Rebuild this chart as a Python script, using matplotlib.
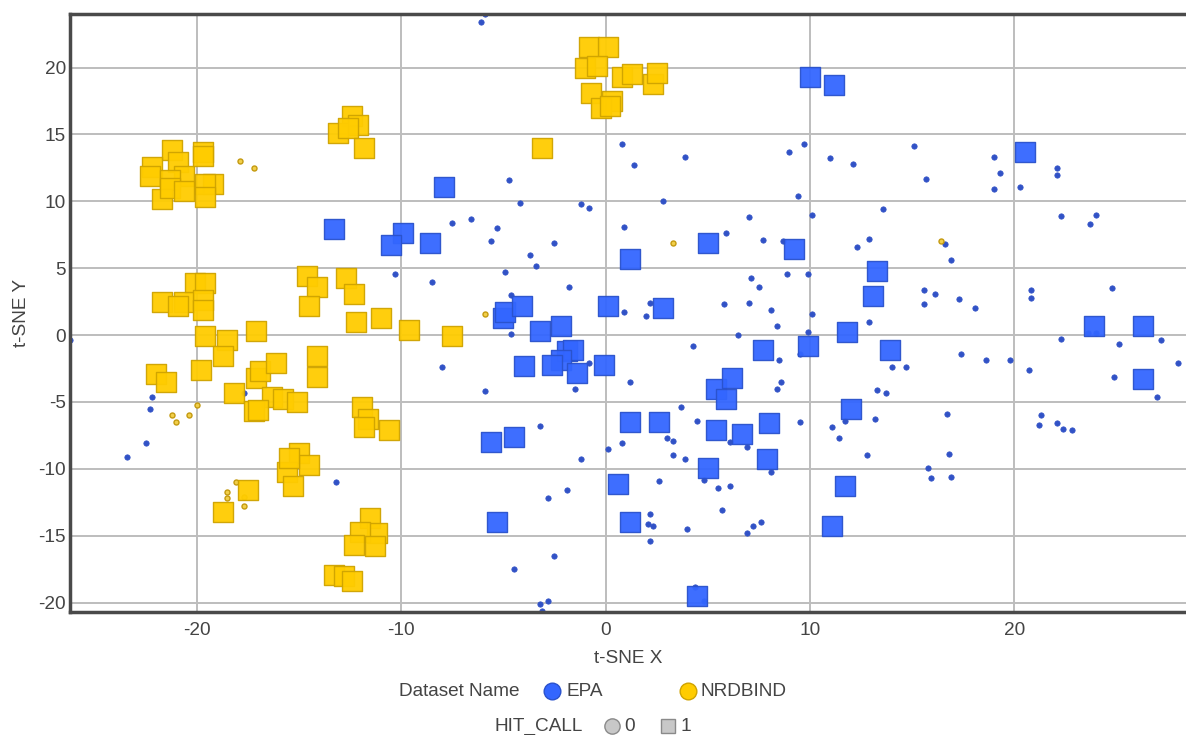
import matplotlib
matplotlib.use("Agg")
import matplotlib.pyplot as plt
from matplotlib.lines import Line2D
import numpy as np

plt.rcParams['font.family'] = ['Liberation Sans', 'DejaVu Sans']
plt.rcParams['axes.unicode_minus'] = False

# t-SNE coordinates: (x, y)
epa_hit = [
    (-7.9, 11.1), (-13.3, 7.9), (-9.9, 7.6), (-10.5, 6.7), (-8.6, 6.9),
    (-5.0, 1.3), (-4.9, 1.7), (-4.1, 2.2), (-3.2, 0.3), (-2.2, 0.7), (-1.9, -1.2),
    (-1.6, -1.1), (-2.2, -1.9), (-2.6, -2.2), (-1.4, -2.8), (-4.0, -2.3), (-0.05, -2.2),
    (0.1, 2.2), (2.8, 2.0), (1.2, -6.5), (2.6, -6.5), (-5.6, -8.0), (-4.5, -7.6),
    (-5.3, -14.0), (10.0, 19.3), (11.2, 18.7), (5.0, 6.9), (9.2, 6.4), (1.2, 5.7),
    (13.3, 4.8), (13.1, 2.9), (7.7, -1.1), (9.9, -0.8), (11.8, 0.2), (13.9, -1.1),
    (5.4, -4.0), (6.2, -3.2), (5.9, -4.8), (12.0, -5.5), (5.4, -7.1), (6.7, -7.4),
    (8.0, -6.6), (7.9, -9.3), (5.0, -9.9), (0.6, -11.1), (11.7, -11.3), (1.2, -14.0),
    (11.1, -14.3), (4.5, -19.5), (20.5, 13.7), (23.9, 0.7), (26.3, 0.7), (26.3, -3.3),
]

epa_nohit = [
    (-26.2, -0.4), (-17.7, -4.3), (-22.2, -4.6), (-22.3, -5.5), (-22.5, -8.1), (-23.4, -9.1),
    (-10.3, 4.6), (-8.5, 4.0), (-8.0, -2.4), (-13.2, -11.0),
    (-5.9, -4.2), (-3.2, -6.8), (-1.2, -9.3), (-2.8, -12.2), (-1.9, -11.6), (-2.5, -16.5),
    (-4.5, -17.5), (-3.2, -20.1), (-2.8, -19.9), (-3.1, -20.6),
    (-4.6, 0.1), (-1.5, -4.0), (-0.8, -2.1),
    (-4.9, 4.7), (-1.8, 3.6), (-4.6, 3.0), (0.9, 1.7), (2.0, 1.4), (2.2, 2.4), (4.3, -0.8),
    (1.2, -3.5), (3.7, -5.4), (4.5, -6.4),
    (-5.9, 24.0), (-6.1, 23.4), (-4.7, 11.6), (-4.2, 9.9), (-1.2, 9.8), (-0.8, 9.5),
    (-7.5, 8.4), (-6.6, 8.7), (-5.3, 8.0), (-5.6, 7.0), (-2.5, 6.9), (-3.7, 6.0), (-3.4, 5.2),
    (0.8, 14.3), (1.4, 12.7), (3.9, 13.3), (9.0, 13.7), (9.7, 14.3), (11.0, 13.2), (12.1, 12.8),
    (9.4, 10.4), (2.8, 10.0), (10.1, 9.0), (13.6, 9.4), (7.0, 8.8), (0.9, 8.1), (5.9, 7.6),
    (7.7, 7.1), (8.7, 7.0), (12.9, 7.2), (12.3, 6.6), (7.1, 4.3), (7.5, 3.6), (8.9, 4.6), (9.9, 4.6),
    (5.8, 2.3), (7.0, 2.4), (8.1, 1.9), (8.4, 0.7), (6.5, 0.0), (10.1, 1.6), (9.9, 0.2),
    (9.5, -1.4), (8.5, -1.9), (8.6, -3.5), (8.4, -4.0), (12.9, 1.0), (14.0, -2.4), (13.3, -4.1),
    (13.7, -4.3), (0.8, -8.1), (0.1, -8.5), (3.0, -7.7), (3.3, -7.9), (3.3, -9.0), (3.9, -9.3),
    (6.1, -8.0), (6.9, -8.4), (9.5, -6.5), (11.1, -6.9), (11.4, -7.7), (11.7, -6.4), (13.2, -6.3),
    (12.8, -9.0), (4.8, -10.8), (5.5, -11.4), (6.1, -11.3), (8.1, -10.2), (2.6, -10.9),
    (5.7, -13.1), (2.2, -13.4), (2.1, -14.1), (2.3, -14.3), (2.2, -15.4), (4.0, -14.5),
    (6.9, -14.8), (7.2, -14.3), (7.6, -14.0), (4.4, -18.8), (4.8, -19.9),
    (15.1, 14.1), (15.7, 11.7), (19.0, 13.3), (19.3, 12.1), (19.0, 10.9), (20.3, 11.1),
    (22.1, 12.5), (22.1, 12.0), (22.3, 8.9), (23.7, 8.3), (24.0, 9.0), (16.6, 6.8), (16.9, 5.6),
    (15.6, 3.4), (16.1, 3.1), (17.3, 2.7), (20.8, 3.4), (20.8, 2.8), (24.8, 3.5),
    (15.6, 2.3), (18.1, 2.0), (22.3, -0.3), (25.1, -0.7), (27.2, -0.4), (28.0, -2.1),
    (24.9, -3.1), (27.0, -4.6), (17.4, -1.4), (18.6, -1.9), (19.8, -1.9), (14.7, -2.4),
    (20.7, -2.6), (16.7, -5.9), (16.8, -8.9), (15.8, -9.9), (15.9, -10.7), (16.9, -10.6),
    (21.3, -6.0), (21.2, -6.7), (22.1, -6.6), (22.4, -7.0), (22.8, -7.1), (23.6, 0.15), (24.0, 0.15),
]

nrd_hit = [
    (-21.2, 13.8), (-22.2, 12.6), (-22.3, 11.9), (-20.9, 12.9), (-20.6, 11.9), (-21.3, 11.6),
    (-21.7, 10.2), (-21.3, 11.0), (-20.6, 10.8), (-19.7, 13.7), (-19.7, 13.4), (-19.2, 11.3),
    (-19.6, 11.3), (-19.6, 10.3),
    (-20.1, 3.9), (-19.6, 3.9), (-21.7, 2.5), (-20.6, 2.5), (-20.9, 2.2), (-19.7, 2.6),
    (-19.7, 1.9), (-19.6, -0.1), (-18.5, -0.4), (-18.7, -1.6), (-17.1, 0.3), (-19.8, -2.6),
    (-22.0, -2.9), (-21.5, -3.5), (-18.2, -4.3), (-17.1, -3.2), (-16.9, -2.7), (-16.1, -2.1),
    (-16.3, -4.6), (-15.8, -4.8), (-15.1, -5.0), (-17.2, -5.7), (-17.0, -5.6),
    (-14.6, 4.4), (-14.1, 3.6), (-14.5, 2.2), (-12.7, 4.3), (-12.3, 3.1), (-12.2, 1.0),
    (-11.0, 1.3), (-9.6, 0.4), (-7.5, -0.1), (-14.1, -1.6), (-14.1, -3.1),
    (-11.9, -5.4), (-11.6, -6.3), (-11.8, -6.9), (-10.6, -7.1),
    (-15.0, -8.8), (-14.5, -9.7), (-15.6, -10.2), (-15.5, -9.2), (-15.3, -11.3),
    (-17.5, -11.6), (-18.7, -13.2),
    (-11.5, -13.7), (-11.2, -14.8), (-12.0, -14.7), (-12.3, -15.7), (-11.3, -15.8),
    (-13.3, -17.9), (-12.8, -18.0), (-12.4, -18.4),
    (-12.4, 16.4), (-12.1, 15.7), (-13.1, 15.1), (-12.6, 15.5), (-11.8, 14.0), (-3.1, 14.0),
    (-0.8, 21.5), (0.1, 21.5), (-1.0, 20.0), (-0.4, 20.1), (0.8, 19.3), (1.3, 19.5),
    (2.3, 18.8), (2.5, 19.6), (-0.7, 18.1), (0.3, 17.5), (-0.2, 17.0), (0.2, 17.1),
]

nrd_nohit = [
    (-17.9, 13.0), (-17.2, 12.5), (-20.0, -5.2), (-21.2, -6.0), (-21.0, -6.5), (-20.4, -6.0),
    (-18.1, -11.0), (-18.5, -11.7), (-18.5, -12.2), (-17.7, -12.1), (-17.7, -12.8),
    (-5.9, 1.6), (3.3, 6.9), (16.4, 7.0),
]

x_ticks = [-20, -10, 0, 10, 20]
y_ticks = [-20, -15, -10, -5, 0, 5, 10, 15, 20]

BLUE = '#3366ff'
BLUE_EDGE = '#2a52cc'
BLUE_DOT = '#3152c6'
GOLD = '#ffcc00'
GOLD_EDGE = '#cfa300'
GOLD_DOT = '#f2cf4a'
GOLD_DOT_EDGE = '#c49a10'
TEXT = '#444444'
FS = 13.7

fig = plt.figure(figsize=(11.86, 7.35), dpi=100)
ax = fig.add_axes([70 / 1186, 1 - 612 / 735, 1 - 70 / 1186, (612 - 14) / 735])

ax.grid(True, color='#bdbdbd', linewidth=1.4, zorder=0)
ax.set_axisbelow(True)

epa_dots = np.array(epa_nohit)
nrd_dots = np.array(nrd_nohit)
epa_sq = np.array(epa_hit)
nrd_sq = np.array(nrd_hit)

ax.scatter(epa_dots[:, 0], epa_dots[:, 1], s=15, marker='o', color=BLUE_DOT,
           edgecolors=BLUE_DOT, linewidths=0.5, zorder=2)
ax.scatter(nrd_dots[:, 0], nrd_dots[:, 1], s=13, marker='o', color=GOLD_DOT,
           edgecolors=GOLD_DOT_EDGE, linewidths=1.0, zorder=2)
ax.scatter(epa_sq[:, 0], epa_sq[:, 1], s=225, marker='s', color=BLUE,
           edgecolors=BLUE_EDGE, linewidths=1.0, alpha=0.95, zorder=3)
ax.scatter(nrd_sq[:, 0], nrd_sq[:, 1], s=225, marker='s', color=GOLD,
           edgecolors=GOLD_EDGE, linewidths=1.0, alpha=0.95, zorder=3)

ax.set_xlim(-26.2, 28.4)
ax.set_ylim(-20.7, 24.0)
ax.set_xticks(x_ticks)
ax.set_yticks(y_ticks)
ax.tick_params(axis='x', length=0, labelsize=FS, colors=TEXT, pad=7)
ax.tick_params(axis='y', length=0, labelsize=FS, colors=TEXT, pad=3)

for side in ['left', 'bottom', 'top']:
    ax.spines[side].set_color('#4a4a4a')
    ax.spines[side].set_linewidth(2.5)
ax.spines['right'].set_visible(False)

ax.set_xlabel('t-SNE X', fontsize=FS, color=TEXT, labelpad=8)
ax.set_ylabel('t-SNE Y', fontsize=FS, color=TEXT, labelpad=6)

# legend rows at the bottom, drawn by hand in figure coords
def fx(px):
    return px / 1186

def fy(py):
    return 1 - py / 735

fig.text(fx(399), fy(691), 'Dataset Name', fontsize=FS, color=TEXT, va='center', ha='left')
fig.add_artist(Line2D([fx(552)], [fy(691)], marker='o', markersize=12, color=BLUE,
                      markeredgecolor=BLUE_EDGE, linestyle='none'))
fig.text(fx(566), fy(691), 'EPA', fontsize=FS, color=TEXT, va='center', ha='left')
fig.add_artist(Line2D([fx(688)], [fy(691)], marker='o', markersize=12, color=GOLD,
                      markeredgecolor=GOLD_EDGE, linestyle='none'))
fig.text(fx(701), fy(691), 'NRDBIND', fontsize=FS, color=TEXT, va='center', ha='left')

fig.text(fx(495), fy(731), 'HIT_CALL', fontsize=FS, color=TEXT, va='baseline', ha='left')
fig.add_artist(Line2D([fx(612)], [fy(726)], marker='o', markersize=11, color='#c8c8c8',
                      markeredgecolor='#8a8a8a', linestyle='none'))
fig.text(fx(624), fy(731), '0', fontsize=FS, color=TEXT, va='baseline', ha='left')
fig.add_artist(Line2D([fx(668)], [fy(726)], marker='s', markersize=10, color='#c8c8c8',
                      markeredgecolor='#8a8a8a', linestyle='none'))
fig.text(fx(681), fy(731), '1', fontsize=FS, color=TEXT, va='baseline', ha='left')

fig.savefig('out.png', dpi=100)
